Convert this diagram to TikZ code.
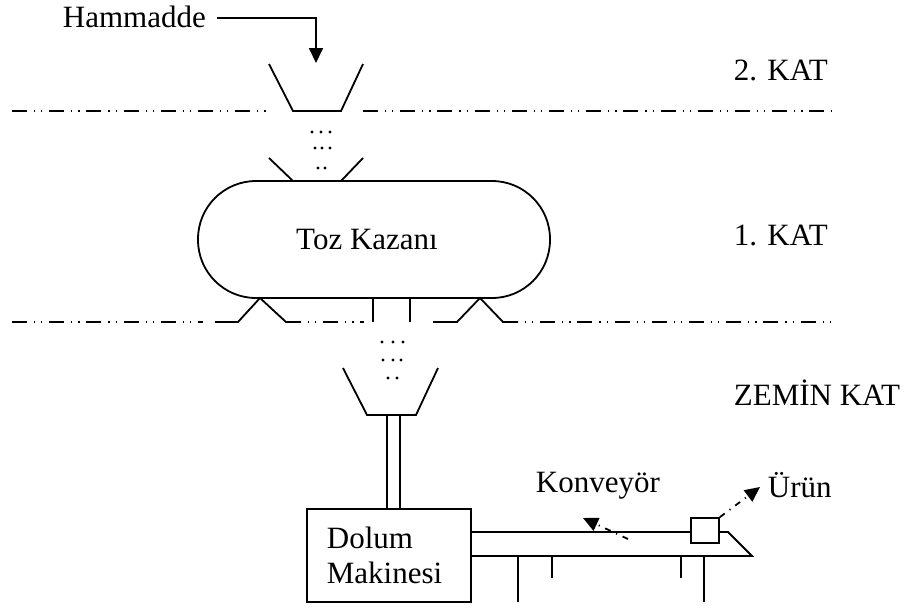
\documentclass[tikz,border=0pt]{standalone}
\usepackage{fontspec}
\setmainfont{Liberation Serif}
\usetikzlibrary{arrows.meta}
\tikzstyle{etiket}=[inner sep=0pt, font=\fontsize{15.5}{18}\selectfont]
\tikzstyle{kat}=[draw=black, dash pattern=on 7.5pt off 3.5pt on 0.6pt off 3pt on 0.6pt off 3.4pt]
\tikzstyle{arrow}=[draw=black, -{Triangle[length=7.5pt,width=7pt]}]
\tikzstyle{okcizgi}=[dash pattern=on 3pt off 3pt on 0.6pt off 3pt]
\tikzstyle{kutu}=[draw, inner sep=0pt]

\begin{document}
\begin{tikzpicture}[x=0.5pt, y=-0.5pt, line width=0.9pt]
	\useasboundingbox (0,0) rectangle (906,607);
	\begin{scope}
		% yazilar
		\node (hammadde) at (62,27)[etiket, anchor=base west] {Hammadde};
		\node (kat2) at (733,80)[etiket, anchor=base west] {2. KAT};
		\node (kat1) at (733,245)[etiket, anchor=base west] {1. KAT};
		\node (zemin) at (733,405)[etiket, anchor=base west] {ZEM\.{I}N KAT};
		\node (konveyor) at (535,492)[etiket, anchor=base west] {Konveyör};
		\node (urunyazi) at (767,497)[etiket, anchor=base west] {Ürün};
		% kazan ve makine
		\node (kazan) at (374,239.5)[kutu, rounded corners=29pt, minimum width=176pt, minimum height=58.5pt] {};
		\node (toz) at (367,249)[etiket, anchor=base] {Toz Kazanı};
		\node (dolum) at (389,555.5)[kutu, minimum width=82pt, minimum height=46.5pt] {};
		\node (dolumyazi) at (326,548)[etiket, anchor=base west] {Dolum};
		\node (makyazi) at (326,583)[etiket, anchor=base west] {Makinesi};
		\node (urun) at (705,530.5)[kutu, minimum width=14pt, minimum height=12.5pt] {};
		% serbest uclar
		\coordinate (h1) at (217,18);
		\coordinate (giris) at (316,63);
		\coordinate (k1) at (628,539);
		\coordinate (k2) at (583,518);
		\coordinate (u2) at (760,487);
		\coordinate (boru1) at (387,415);
		\coordinate (boru2) at (400,415);
	\end{scope}
	\begin{scope}
		% kat cizgileri
		\draw[kat] (12,111) -- (266,111);
		\draw[kat] (363,111) -- (832,111);
		\draw[kat] (12,322) -- (203,322);
		\draw[kat] (286,322) -- (364,322);
		\draw[kat] (503,322) -- (832,322);
		% huniler
		\draw (269,64) -- (293,111) -- (341,111) -- (363,64);
		\draw (269,158) -- (293,181);
		\draw (363,158) -- (341,181);
		\draw (343,368) -- (367,415) -- (416,415) -- (438,368);
		% kazan ayaklari ve cikis
		\draw (215,322) -- (238,322) -- (260,298) -- (286,322) -- (300,322);
		\draw (433,322) -- (457,322) -- (480,298) -- (503,322) -- (518,322);
		\draw (373,298) -- (373,322);
		\draw (410,298) -- (410,322);
		% dusen toz
		\foreach \x/\y in {312/132, 321/132, 330/132, 315/148, 322/148, 330/148, 318/168, 325/168,
			382/342, 393/342, 403/342, 383/360, 393/360, 401/360, 388/378, 397/378}
			\fill (\x,\y) circle (0.85pt);
		% boru
		\path [-] (boru1) edge (boru1 |- dolum.north);
		\path [-] (boru2) edge (boru2 |- dolum.north);
		% konveyor
		\draw (dolum.east |- 0,532) -- (urun.west |- 0,532);
		\draw (urun.east |- 0,532) -- (728,532) -- (752,556) -- (dolum.east |- 0,556);
		\foreach \x/\y in {518/602, 552/578, 681/578, 704/602}
			\draw (\x,556) -- (\x,\y);
		% oklar
		\draw[arrow] (h1) -| (giris);
		\draw[arrow, okcizgi] (k1) -- (k2);
		\draw[arrow, okcizgi] (urun.north east) -- (u2);
	\end{scope}
\end{tikzpicture}
\end{document}
